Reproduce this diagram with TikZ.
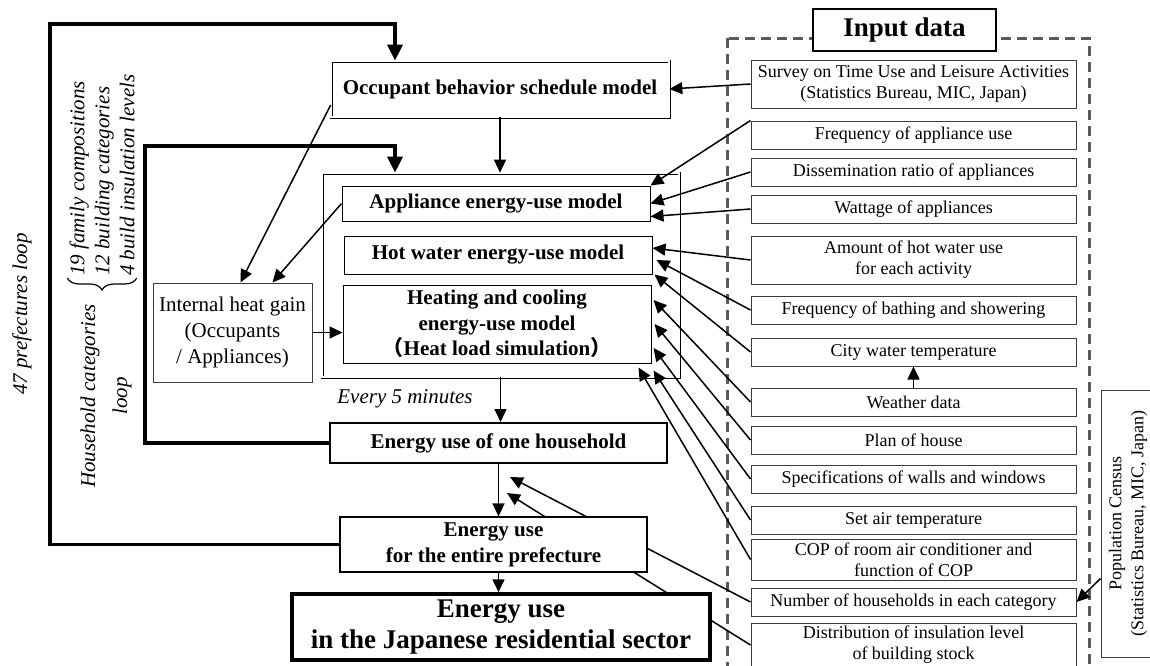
\documentclass[tikz,border=0pt]{standalone}
\usepackage{fontspec}
\setmainfont{Liberation Serif}
\newfontfamily\cjk{Noto Sans CJK JP}
\usetikzlibrary{arrows.meta, positioning, decorations.pathreplacing}
\definecolor{frame-gray}{HTML}{5A5A5A}
\definecolor{box-gray}{HTML}{3A3A3A}
\tikzset{
  inbox/.style={draw=box-gray,line width=1pt,fill=white,align=center,minimum width=325pt,minimum height=28pt,inner sep=2pt,font=\fontsize{18}{21}\selectfont},
  modelbox/.style={draw,line width=1pt,fill=white,align=center,minimum width=308pt,inner sep=2pt,font=\fontsize{21}{25.5}\selectfont\bfseries},
  dblbox/.style={draw,double,double distance=1.6pt,line width=0.7pt,fill=white,inner sep=0pt,align=center,font=\fontsize{21}{25}\selectfont\bfseries},
  arr/.style={-{Triangle[length=13pt,width=12pt]},line width=1.5pt},
  looparr/.style={-{Triangle[length=16pt,width=15pt]},line width=3.2pt},
  looptxt/.style={rotate=90,align=center,inner sep=2pt,font=\fontsize{21}{25}\selectfont\itshape},
}

\begin{document}
\begin{tikzpicture}[x=1pt,y=-1pt]
  \useasboundingbox (0,0) rectangle (1150,665);

  % input data column
  \draw[frame-gray,line width=3pt,dash pattern=on 10pt off 6pt] (727,38) rectangle (1089,690);
  \node[draw,line width=2.5pt,fill=white,minimum width=183pt,minimum height=42pt,font=\fontsize{27}{30}\selectfont\bfseries] (title) at (904.5,30) {Input data};
  \node[inbox,minimum height=48pt] (survey) at (913.5,84) {Survey on Time Use and Leisure Activities\\(Statistics Bureau, MIC, Japan)};
  \node[inbox,below=12pt of survey] (freq) {Frequency of appliance use};
  \node[inbox,below=8pt of freq] (diss) {Dissemination ratio of appliances};
  \node[inbox,below=8pt of diss] (watt) {Wattage of appliances};
  \node[inbox,minimum height=48pt,below=12pt of watt] (amount) {Amount of hot water use\\for each activity};
  \node[inbox,below=11pt of amount] (bath) {Frequency of bathing and showering};
  \node[inbox,below=13pt of bath] (city) {City water temperature};
  \node[inbox,below=21pt of city] (weather) {Weather data};
  \node[inbox,below=9pt of weather] (plan) {Plan of house};
  \node[inbox,below=10pt of plan] (walls) {Specifications of walls and windows};
  \node[inbox,below=12pt of walls] (setair) {Set air temperature};
  \node[inbox,minimum height=41pt,below=4pt of setair] (cop) {COP of room air conditioner and\\function of COP};
  \node[inbox,below=7pt of cop] (num) {Number of households in each category};
  \node[inbox,minimum height=44pt,below=6pt of num] (dist) {Distribution of insulation level\\of building stock};
  \node[draw=box-gray,line width=1pt,rotate=90,minimum width=267pt,minimum height=54pt,align=center,font=\fontsize{18}{22}\selectfont] (census) at (1128,523.5) {Population Census\\(Statistics Bureau, MIC, Japan)};
  \draw[arr] (weather.north) -- (city.south);
  \draw[arr] ([yshift=-55pt]census.north) -- (num.east);

  % models
  \node[dblbox,minimum width=338pt,minimum height=56pt] (occ) at (500,89) {Occupant behavior schedule model};
  \node[dblbox,minimum width=357pt,minimum height=204pt] (models) at (500.5,275) {};
  \node[modelbox,minimum height=35pt] (appl) at (496,203.5) {Appliance energy-use model};
  \node[modelbox,minimum height=38pt] (hot) at (498,255) {Hot water energy-use model};
  \node[modelbox,minimum height=78pt] (heat) at (497,324) {Heating and cooling\\energy-use model\\{\cjk （}Heat load simulation{\cjk ）}};
  \node[draw=box-gray,line width=1pt,fill=white,align=center,minimum width=159pt,minimum height=99pt,font=\fontsize{21}{26}\selectfont] (ihg) at (232.5,332.5) {Internal heat gain\\(Occupants\\/ Appliances)};
  \node[font=\fontsize{21}{25}\selectfont\itshape] (every) at (405,399) {Every 5 minutes};
  \node[draw,line width=2pt,fill=white,minimum width=337pt,minimum height=40pt,font=\fontsize{21}{25}\selectfont\bfseries] (one) at (498.5,443) {Energy use of one household};

  \coordinate (nt) at (510,477);
  \coordinate (dt) at (507,493);
  \draw[arr] (num.west) -- (nt);
  \draw[arr] (dist.west) -- (dt);

  \node[draw,line width=1.2pt,fill=white,align=center,minimum width=307pt,minimum height=55pt,font=\fontsize{21}{26}\selectfont\bfseries] (pref) at (493.5,544.5) {Energy use\\for the entire prefecture};
  \node[draw,line width=3.5pt,fill=white,align=center,minimum width=418pt,minimum height=66pt,font=\fontsize{27}{31}\selectfont\bfseries] (japan) at (501,627) {Energy use\\in the Japanese residential sector};

  % loops
  \node[looptxt] (pl-txt) at (22,314) {47 prefectures loop};
  \node[looptxt,align=left,anchor=west] (fam) at (102,278) {19 family compositions\\12 building categories\\4 build insulation levels};
  \draw[line width=1.2pt,decorate,decoration={brace,amplitude=12pt,mirror}] (fam.north west) -- (fam.south west);
  \node[looptxt] (hl-txt) at (106,396) {Household categories\\[7pt]loop};
  \coordinate (pl) at (50,24);
  \coordinate (pt) at (395,24);
  \coordinate (hl) at (145,146);
  \coordinate (ht) at (395,146);
  \draw[looparr] (pref.west) -| (pl) -- (pt) -- (pt |- occ.north);
  \draw[looparr] (one.west) -| (hl) -- (ht) -- (ht |- models.north);

  % flow
  \draw[arr] (occ.south) -- (occ.south |- models.north);
  \draw[arr] (models.south) -- (models.south |- one.north);
  \draw[arr] (one.south) -- (one.south |- pref.north);
  \draw[arr] (pref.south -| one.south) -- (one.south |- japan.north);
  \draw[arr] ([yshift=-16pt]occ.west) -- ([xshift=8pt]ihg.north);
  \draw[arr] (appl.west) -- ([xshift=40pt]ihg.north);
  \draw[arr] (ihg.east) -- (ihg.east -| heat.west);

  % inputs to models
  \draw[arr] (survey.west) -- (occ.east);
  \draw[arr] (freq.north west) -- ([yshift=18pt]appl.east);
  \draw[arr] (diss.west) -- (appl.east);
  \draw[arr] (watt.west) -- ([yshift=-13pt]appl.east);
  \draw[arr] (amount.west) -- ([yshift=7pt]hot.east);
  \draw[arr] (bath.west) -- ([xshift=4pt,yshift=-5pt]hot.east);
  \draw[arr] (city.west) -- ([xshift=2pt]hot.south east);
  \draw[arr] (weather.west) -- ([xshift=2pt,yshift=24pt]heat.east);
  \draw[arr] (plan.west) -- ([xshift=3pt]heat.east);
  \draw[arr] (walls.west) -- ([xshift=2pt,yshift=-24pt]heat.east);
  \draw[arr] (setair.west) -- ([xshift=2pt,yshift=-7pt]heat.south east);
  \draw[arr] (cop.west) -- ([xshift=-13pt,yshift=-4pt]heat.south east);
\end{tikzpicture}
\end{document}
